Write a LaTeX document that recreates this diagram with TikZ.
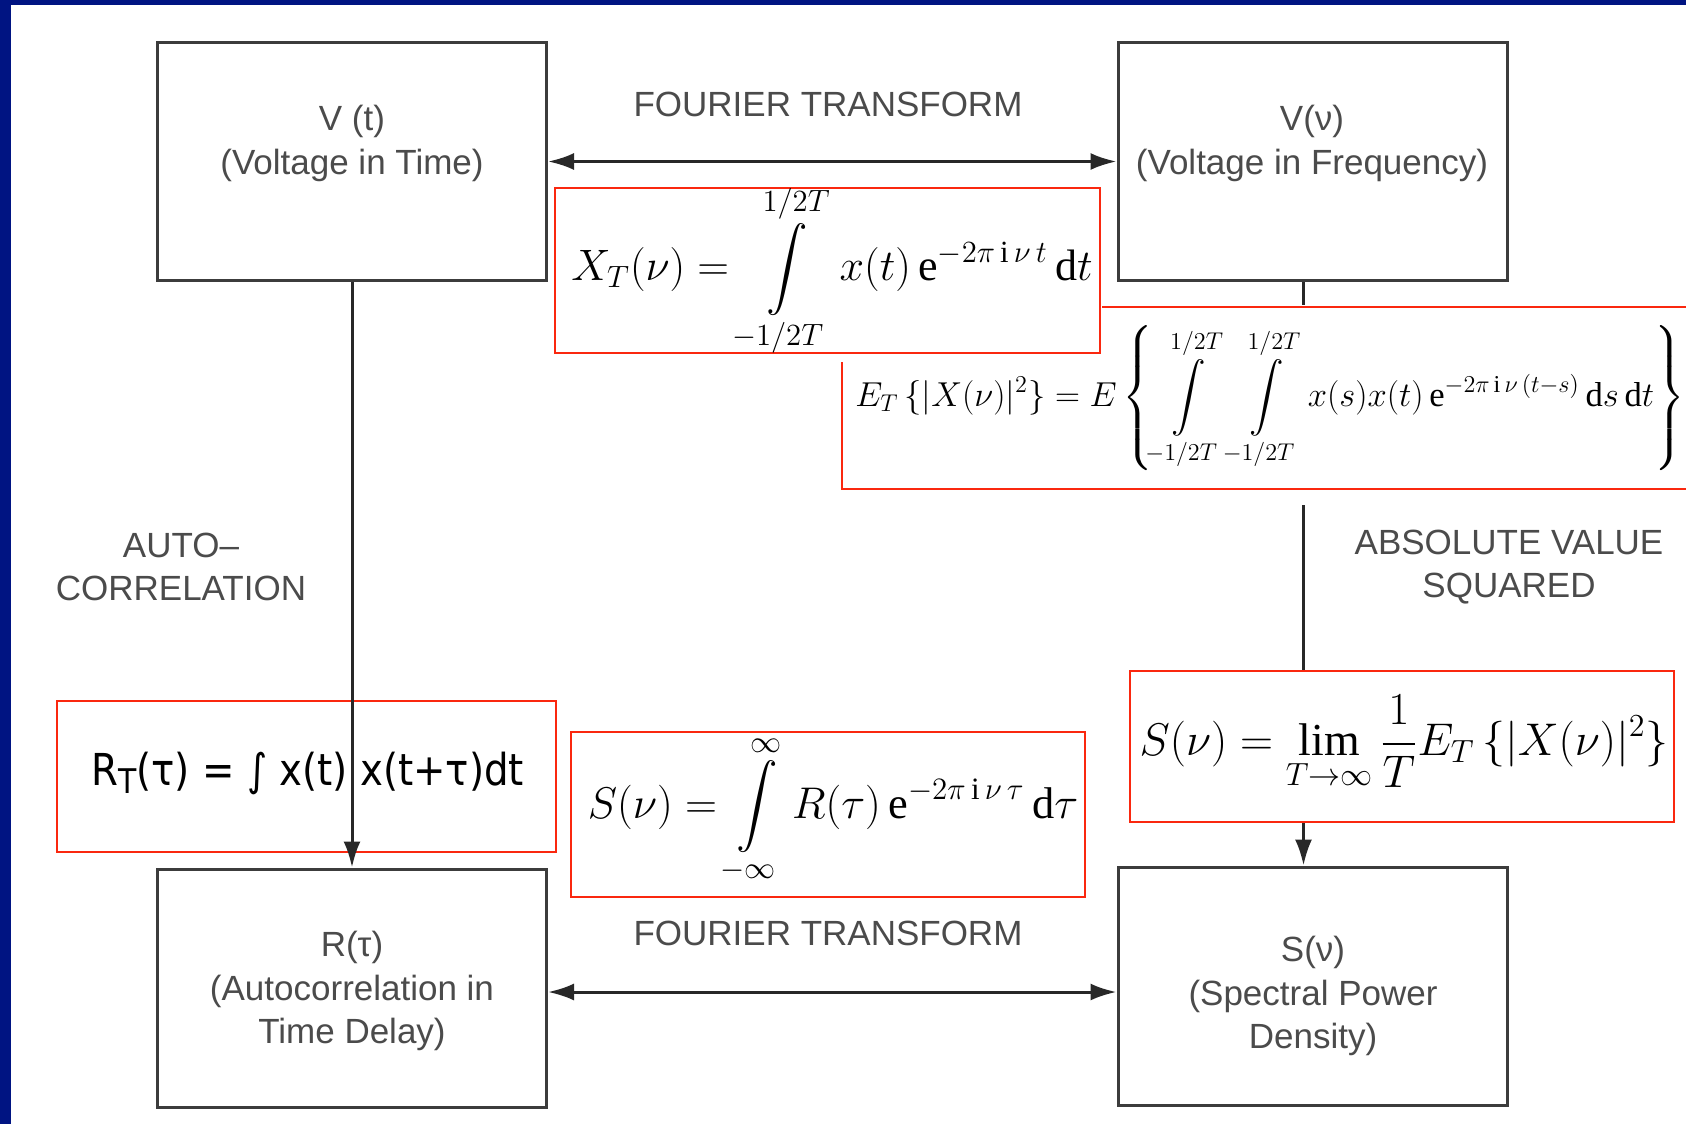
\documentclass[tikz,border=0pt]{standalone}
\usepackage{fix-cm}
\usepackage{amsmath}
\usepackage{fontspec}
\setmainfont{Liberation Serif}
\newfontfamily\helv[Ligatures=TeX]{Liberation Sans}
\newfontfamily\tah[FakeStretch=0.88]{DejaVu Sans}
\usetikzlibrary{arrows.meta,calc}
\definecolor{navy}{RGB}{0,20,130}
\definecolor{redline}{RGB}{250,40,15}
\definecolor{boxgray}{RGB}{60,60,60}
\definecolor{txtgray}{RGB}{75,75,75}
\definecolor{linegray}{RGB}{40,40,40}
\begin{document}
\begin{tikzpicture}[x=0.5pt,y=-0.5pt,
  blk/.style={draw=boxgray, line width=1.5pt, fill=white, minimum width=194.5pt, minimum height=119pt, inner sep=0pt},
  lbl/.style={text=txtgray, font=\helv\fontsize{17.5}{21.7}\selectfont, align=center, inner sep=0pt},
  conn/.style={draw=linegray, line width=1.5pt, -{Latex[length=13pt,width=8.5pt]}},
  biconn/.style={draw=linegray, line width=1.5pt, {Latex[length=13pt,width=8.5pt]}-{Latex[length=13pt,width=8.5pt]}},
  redbox/.style={draw=redline, line width=1pt, inner sep=0pt},
  eqn/.style={inner sep=0pt, text=black},
]
\useasboundingbox (0,0) rectangle (1686,1124);
\fill[white] (0,0) rectangle (1686,1124);
\fill[navy] (0,0) rectangle (1686,5);
\fill[navy] (0,0) rectangle (11,1124);

% main boxes
\node[blk] (Vt) at (352,161.5) {};
\node[blk] (Vv) at (1312.5,161.5) {};
\node[blk] (Rtau) at (352,988) {};
\node[blk] (Snu) at (1312.5,986) {};

% R_T box (unfilled)
\node[redbox, minimum width=249.5pt, minimum height=75.5pt] (RTbox) at (306.5,776.5) {};
\node[eqn, anchor=base west, font=\tah\fontsize{22}{26}\selectfont] (RTeq) at (91,785)
  {R\raisebox{-4pt}{\fontsize{17}{17}\selectfont T}(τ) = ∫ x(t) x(t+τ)dt};

% connectors
\draw[biconn] (Vt.east) -- (Vv.west);
\draw[biconn] ($(Rtau.east)+(0,4)$) -- ($(Snu.west)+(0,6)$);
\draw[conn] (Vt.south) -- (Rtau.north);
\draw[conn] ($(Vv.south)+(-9,0)$) -- ($(Snu.north)+(-9,0)$);

% E_T box
\fill[white] (840,305) rectangle (1700,505);
\node[redbox, minimum width=429pt, minimum height=91pt] (ETbox) at (1271,398) {};
\node[eqn, anchor=west, font=\fontsize{17.3}{21}\selectfont] (ETeq) at (855,398)
  {$\displaystyle E_T\,\{|X(\nu)|^2\} = E\left\{\int\limits_{-1/2T}^{1/2T}\int\limits_{-1/2T}^{1/2T} x(s)x(t)\,\mathrm{e}^{-2\pi\,\mathrm{i}\,\nu\,(t-s)}\,\mathrm{d}s\,\mathrm{d}t\right\}$};

% X_T box
\fill[white] (553,186) rectangle (1102,362);
\node[redbox, minimum width=272.5pt, minimum height=82.5pt] (XTbox) at (827.5,270.5) {};
\node[eqn, font=\fontsize{22}{26}\selectfont] (XTeq) at (832,271)
  {$\displaystyle X_T(\nu) = \int\limits_{-1/2T}^{1/2T} x(t)\,\mathrm{e}^{-2\pi\,\mathrm{i}\,\nu\, t}\,\mathrm{d}t$};

% lim box
\node[redbox, fill=white, minimum width=272pt, minimum height=75.5pt] (Limbox) at (1402,746.5) {};
\node[eqn, font=\fontsize{22.9}{27}\selectfont] (Limeq) at (1404,743)
  {$\displaystyle S(\nu) = \lim_{T\to\infty}\frac{1}{T}E_T\,\{|X(\nu)|^2\}$};

% S integral box
\node[redbox, fill=white, minimum width=257pt, minimum height=82.5pt] (SIbox) at (828,814.5) {};
\node[eqn, font=\fontsize{22.2}{26}\selectfont] (SIeq) at (833,810)
  {$\displaystyle S(\nu) = \int\limits_{-\infty}^{\infty} R(\tau)\,\mathrm{e}^{-2\pi\,\mathrm{i}\,\nu\,\tau}\,\mathrm{d}\tau$};

% labels
\node[lbl] (ft1) at (828,104) {FOURIER TRANSFORM};
\node[lbl] (ft2) at (828,933) {FOURIER TRANSFORM};
\node[lbl] (ac) at (181,567) {AUTO–\\CORRELATION};
\node[lbl] (avs) at (1509,567) {ABSOLUTE VALUE\\SQUARED};

\node[lbl] (tVt) at (352,143.5) {V (t)\\(Voltage in Time)};
\node[lbl] (tVv) at (1312,143.5) {V(ν)\\(Voltage in Frequency)};
\node[lbl] (tRt) at (352,991) {R(τ)\\(Autocorrelation in\\Time Delay)};
\node[lbl] (tSv) at (1313,996) {S(ν)\\(Spectral Power\\Density)};
\end{tikzpicture}
\end{document}
